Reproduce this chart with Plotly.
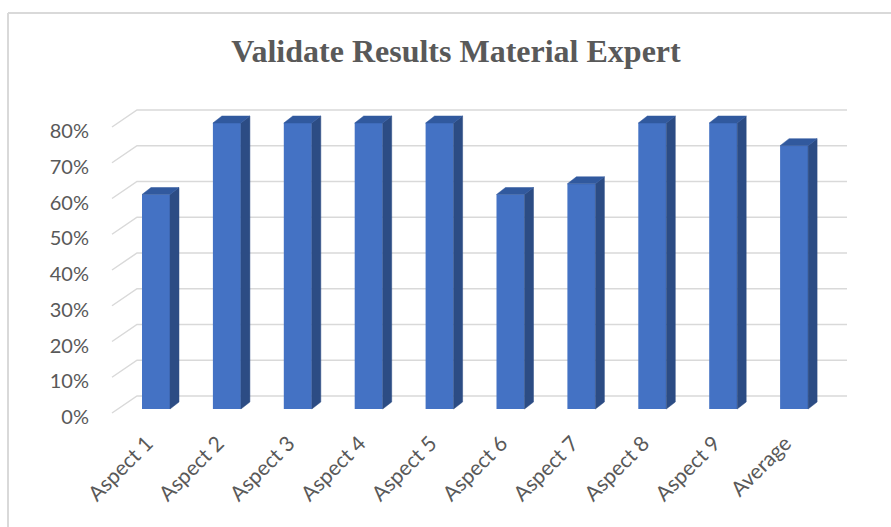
import plotly.graph_objects as go

categories = ["Aspect 1", "Aspect 2", "Aspect 3", "Aspect 4", "Aspect 5",
              "Aspect 6", "Aspect 7", "Aspect 8", "Aspect 9", "Average"]
values = [0.60, 0.80, 0.80, 0.80, 0.80, 0.60, 0.63, 0.80, 0.80, 0.7367]
tick_values = [0, 0.1, 0.2, 0.3, 0.4, 0.5, 0.6, 0.7, 0.8]
tick_labels = ["0%", "10%", "20%", "30%", "40%", "50%", "60%", "70%", "80%"]

FRONT = "#4472C4"
SIDE = "#2C4C84"
TOP = "#31599E"
GRID = "#D9D9D9"
TEXT = "#595959"

W, H = 891, 527
L, R, T, B = 100, 860, 100, 426
px_x = 70.9
px_y = 357.5
x0_px, y0_px = 156, 409
xmin = -(x0_px - L) / px_x
xmax = (R - x0_px) / px_x
ymax = (y0_px - T) / px_y
ymin = -(B - y0_px) / px_y

bw = 28 / px_x        # bar width
dx = 9 / px_x         # depth offset x
dy = 7 / px_y         # depth offset y
g_front_x = (112 - x0_px) / px_x
g_back_x = (137 - x0_px) / px_x
g_right_x = (847 - x0_px) / px_x
g_back_dy = 13 / px_y
g_front_dy = -4 / px_y

xs = list(range(len(categories)))

fig = go.Figure()

# back-wall gridlines with side-wall diagonals (base axes, drawn underneath)
gx, gy = [], []
for v in tick_values:
    gx += [g_front_x, g_back_x, g_right_x, None]
    gy += [v + g_front_dy, v + g_back_dy, v + g_back_dy, None]
fig.add_trace(go.Scatter(x=gx, y=gy, mode="lines",
                         line=dict(color=GRID, width=1.5),
                         hoverinfo="skip", showlegend=False))

# front faces (overlaying axes, drawn on top of gridlines)
fig.add_trace(go.Bar(x=xs, y=values, width=bw, xaxis="x2", yaxis="y2",
                     marker=dict(color=FRONT, line=dict(width=0)),
                     showlegend=False))

# side and top faces
sx, sy = [], []
tx, ty = [], []
for x, v in zip(xs, values):
    r = x + bw / 2
    l = x - bw / 2
    sx += [r, r + dx, r + dx, r, r, None]
    sy += [0, dy, v + dy, v, 0, None]
    tx += [l, l + dx, r + dx, r, l, None]
    ty += [v, v + dy, v + dy, v, v, None]
fig.add_trace(go.Scatter(x=sx, y=sy, mode="lines", fill="toself",
                         xaxis="x2", yaxis="y2",
                         fillcolor=SIDE, line=dict(color=SIDE, width=0.5),
                         hoverinfo="skip", showlegend=False))
fig.add_trace(go.Scatter(x=tx, y=ty, mode="lines", fill="toself",
                         xaxis="x2", yaxis="y2",
                         fillcolor=TOP, line=dict(color=TOP, width=0.5),
                         hoverinfo="skip", showlegend=False))

font_sans = "Lato, 'Open Sans', sans-serif"

fig.update_layout(
    width=W, height=H,
    margin=dict(l=L, r=W - R, t=T, b=H - B),
    paper_bgcolor="white", plot_bgcolor="white",
    title=dict(text="<b>Validate Results Material Expert</b>",
               font=dict(family="'Liberation Serif', 'Times New Roman', serif",
                         size=32, color=TEXT),
               x=456 / W, xanchor="center", y=1 - 51 / H, yanchor="middle"),
    xaxis=dict(range=[xmin, xmax], tickmode="array", tickvals=xs,
               ticktext=categories, tickangle=-45, showgrid=False,
               zeroline=False, showline=False, ticklabelshift=-9,
               tickfont=dict(family=font_sans, size=21, color=TEXT)),
    yaxis=dict(range=[ymin, ymax], tickmode="array", tickvals=tick_values,
               ticktext=tick_labels, showgrid=False, zeroline=False,
               showline=False, ticklabelshift=8, ticklabelstandoff=10,
               tickfont=dict(family=font_sans, size=20, color=TEXT)),
    xaxis2=dict(range=[xmin, xmax], overlaying="x", visible=False),
    yaxis2=dict(range=[ymin, ymax], overlaying="y", visible=False),
    shapes=[
        dict(type="line", xref="paper", yref="paper",
             x0=(8 - L) / (R - L), x1=(W + 5 - L) / (R - L),
             y0=(B - 13) / (B - T), y1=(B - 13) / (B - T),
             line=dict(color=GRID, width=2)),
        dict(type="line", xref="paper", yref="paper",
             x0=(8 - L) / (R - L), x1=(8 - L) / (R - L),
             y0=(B - 13) / (B - T), y1=(B - H - 5) / (B - T),
             line=dict(color=GRID, width=2)),
    ],
)

fig.write_html("out.html")
